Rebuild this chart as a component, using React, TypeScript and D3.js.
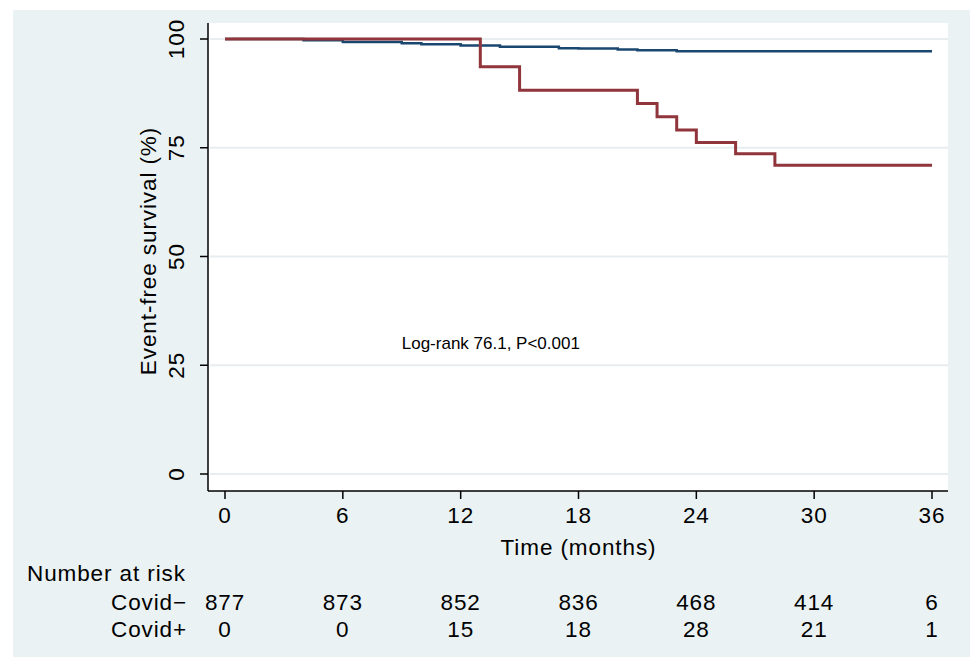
import React from 'react'
import * as d3 from 'd3'

// Kaplan-Meier steps
const negTimes = [0, 4, 6, 9, 10, 12, 14, 17, 18, 20, 21, 23, 36]
const negSurv = [100, 99.7, 99.3, 99.0, 98.8, 98.5, 98.2, 97.9, 97.8, 97.6, 97.4, 97.2, 97.2]
const posTimes = [0, 13, 15, 21, 22, 23, 24, 26, 28, 36]
const posSurv = [100, 93.6, 88.2, 85.2, 82.1, 79.1, 76.2, 73.6, 71.0, 71.0]

const xTicks = [0, 6, 12, 18, 24, 30, 36]
const yTicks = [0, 25, 50, 75, 100]
const riskGroups = ['Covid−', 'Covid+']
const riskNeg = [877, 873, 852, 836, 468, 414, 6]
const riskPos = [0, 0, 15, 18, 28, 21, 1]

const W = 972
const H = 668
const font = '"Liberation Sans", Arial, sans-serif'
const fs = 22.5
const ls = 0.9

const plotBox = { left: 208, right: 948, top: 23, bottom: 491 }

const App = () => {
  const x = d3.scaleLinear().domain([0, 36]).range([225, 932])
  const y = d3.scaleLinear().domain([0, 100]).range([474, 39])

  const line = d3
    .line<[number, number]>()
    .x(d => x(d[0]))
    .y(d => y(d[1]))
    .curve(d3.curveStepAfter)

  const negPts = negTimes.map((t, i) => [t, negSurv[i]] as [number, number])
  const posPts = posTimes.map((t, i) => [t, posSurv[i]] as [number, number])

  const riskRows = [riskNeg, riskPos]

  return (
    <svg width={W} height={H} style={{ position: 'absolute', left: 0, top: 0 }} fontFamily={font}>
      <rect x={0} y={0} width={W} height={H} fill="#ffffff" />
      <rect x={13} y={10} width={957} height={647} fill="#eaf2f3" />
      <rect
        x={plotBox.left}
        y={plotBox.top}
        width={plotBox.right - plotBox.left}
        height={plotBox.bottom - plotBox.top}
        fill="#ffffff"
      />

      {/* grid */}
      {yTicks.map(t => (
        <line key={'g' + t} x1={plotBox.left + 2} x2={plotBox.right} y1={y(t)} y2={y(t)} stroke="#e8eef0" strokeWidth={2} />
      ))}

      {/* curves */}
      <path d={line(negPts) || ''} fill="none" stroke="#1a476f" strokeWidth={2.5} />
      <path d={line(posPts) || ''} fill="none" stroke="#90353b" strokeWidth={3} />

      {/* axes */}
      <line x1={plotBox.left} x2={plotBox.left} y1={plotBox.top} y2={plotBox.bottom} stroke="#000" strokeWidth={1.5} />
      <line x1={plotBox.left} x2={plotBox.right} y1={plotBox.bottom} y2={plotBox.bottom} stroke="#000" strokeWidth={1.5} />

      {yTicks.map(t => (
        <g key={'y' + t}>
          <line x1={plotBox.left - 8} x2={plotBox.left} y1={y(t)} y2={y(t)} stroke="#000" strokeWidth={1.5} />
          <text
            transform={`translate(176,${y(t)}) rotate(-90)`}
            textAnchor="middle"
            dominantBaseline="central"
            fontSize={fs}
            letterSpacing={ls}
            fill="#000"
          >
            {t}
          </text>
        </g>
      ))}

      {xTicks.map(t => (
        <g key={'x' + t}>
          <line x1={x(t)} x2={x(t)} y1={plotBox.bottom} y2={plotBox.bottom + 8} stroke="#000" strokeWidth={1.5} />
          <text x={x(t)} y={515} textAnchor="middle" dominantBaseline="central" fontSize={fs} letterSpacing={ls} fill="#000">
            {t}
          </text>
        </g>
      ))}

      <text
        transform={`translate(148,251) rotate(-90)`}
        textAnchor="middle"
        dominantBaseline="central"
        fontSize={fs}
        letterSpacing={ls}
        fill="#000"
      >
        Event-free survival (%)
      </text>
      <text
        x={(x(0) + x(36)) / 2}
        y={547}
        textAnchor="middle"
        dominantBaseline="central"
        fontSize={fs}
        letterSpacing={ls}
        fill="#000"
      >
        Time (months)
      </text>

      <text x={x(9)} y={y(29.9)} dominantBaseline="central" fontSize={17} fill="#000">
        Log-rank 76.1, P&lt;0.001
      </text>

      {/* number at risk */}
      <text x={27} y={573} dominantBaseline="central" fontSize={fs} letterSpacing={ls} fill="#000">
        Number at risk
      </text>
      {riskGroups.map((g, gi) => (
        <g key={g}>
          <text x={111} y={602 + gi * 27} dominantBaseline="central" fontSize={fs} letterSpacing={ls} fill="#000">
            {g}
          </text>
          {riskRows[gi].map((v, i) => (
            <text
              key={i}
              x={x(xTicks[i])}
              y={602 + gi * 27}
              textAnchor="middle"
              dominantBaseline="central"
              fontSize={fs}
              letterSpacing={ls}
              fill="#000"
            >
              {v}
            </text>
          ))}
        </g>
      ))}
    </svg>
  )
}

export default App
